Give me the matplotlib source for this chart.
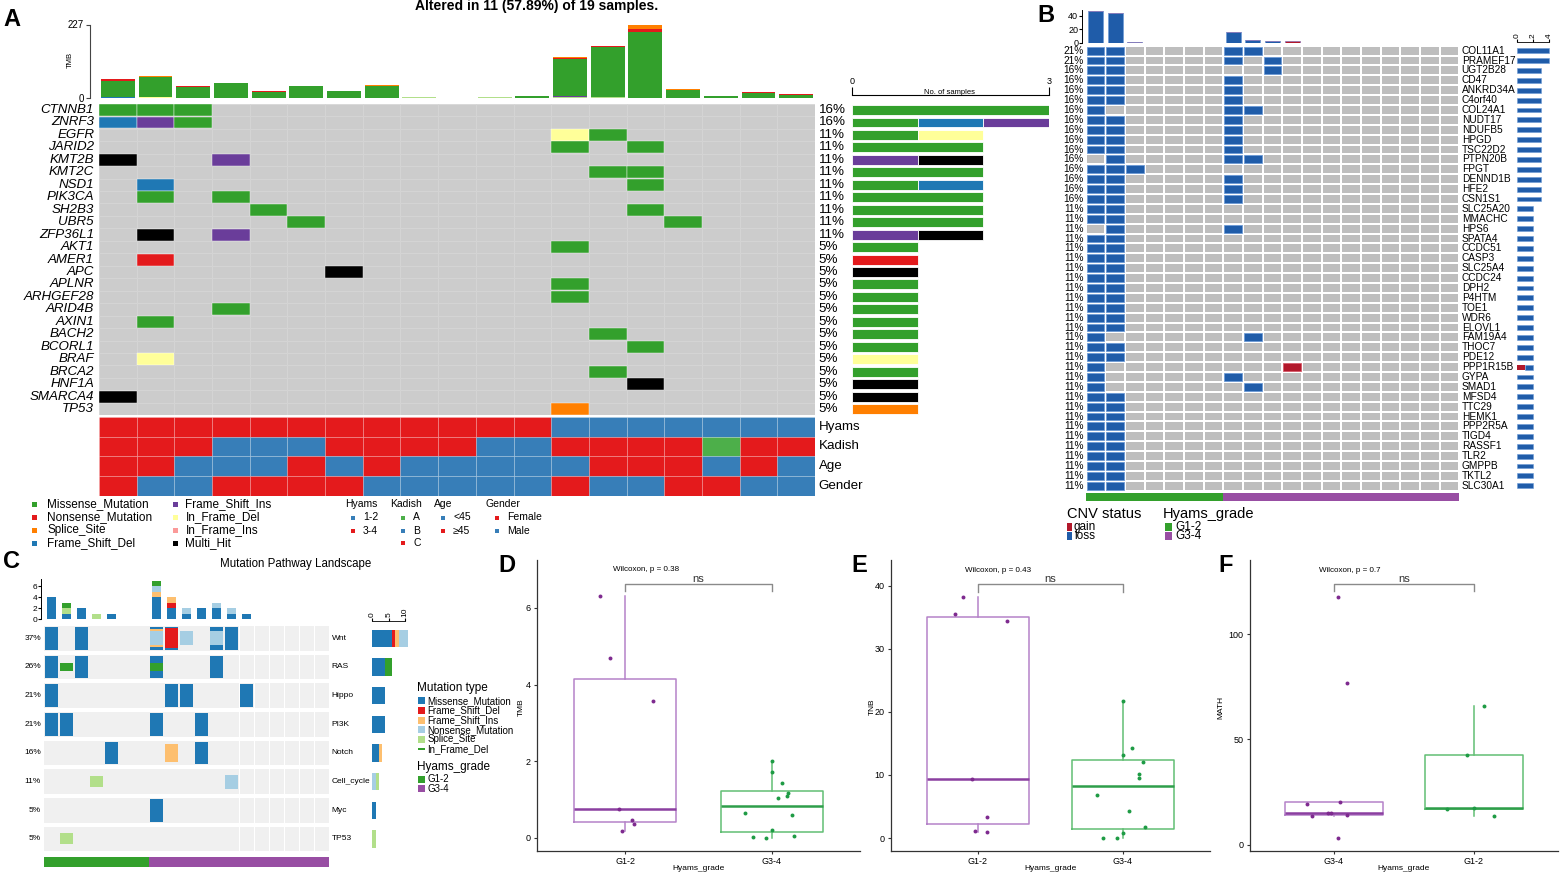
import numpy as np
import matplotlib
matplotlib.use('Agg')
import matplotlib.pyplot as plt
from matplotlib.patches import Rectangle

plt.rcParams['font.family'] = ['Liberation Sans', 'DejaVu Sans']

# ======================= DATA =======================
# ---- Panel A : oncoplot ----
n_samples_A = 19
genes_A = ['CTNNB1', 'ZNRF3', 'EGFR', 'JARID2', 'KMT2B', 'KMT2C', 'NSD1', 'PIK3CA',
           'SH2B3', 'UBR5', 'ZFP36L1', 'AKT1', 'AMER1', 'APC', 'APLNR', 'ARHGEF28',
           'ARID4B', 'AXIN1', 'BACH2', 'BCORL1', 'BRAF', 'BRCA2', 'HNF1A', 'SMARCA4', 'TP53']
# codes: M missense, N nonsense, S splice, D FS del, I FS ins, d IF del, i IF ins, X multi hit
onco_A = ['MMM................',
          'DIM................',
          '............dM.....',
          '............M.M....',
          'X..I...............',
          '.............MM....',
          '.D............M....',
          '.M.M...............',
          '....M.........M....',
          '.....M.........M...',
          '.X.I...............',
          '............M......',
          '.N.................',
          '......X............',
          '............M......',
          '............M......',
          '...M...............',
          '.M.................',
          '.............M.....',
          '..............M....',
          '.d.................',
          '.............M.....',
          '..............X....',
          'X..................',
          '............S......']
tmb_other    = [0, 0, 0, 0, 0, 0, 0, 0, 3, 0, 3, 1, 5, 3, 2, 0, 1, 0, 0]
tmb_fsins    = [1, 0, 0, 1, 0, 0, 0, 0, 0, 0, 0, 0, 1, 0, 0, 0, 0, 1, 0]
tmb_fsdel    = [2, 2, 0, 1, 0, 0, 0, 0, 0, 0, 0, 0, 0, 0, 0, 0, 0, 1, 1]
tmb_ifdel    = [0, 2, 0, 0, 0, 0, 0, 0, 0, 0, 0, 0, 0, 0, 0, 0, 0, 0, 0]
tmb_missense = [50, 60, 35, 44, 20, 37, 21, 38, 0, 0, 0, 6, 115, 156, 203, 24, 5, 14, 10]
tmb_nonsense = [5, 3, 3, 0, 1, 1, 1, 1, 0, 0, 0, 0, 4, 1, 9, 3, 0, 2, 1]
tmb_splice   = [2, 2, 1, 2, 1, 1, 0, 1, 0, 0, 0, 0, 2, 1, 13, 1, 0, 1, 0]
tmb_ifins    = [0, 0, 0, 0, 0, 0, 0, 0, 0, 0, 0, 0, 1, 1, 0, 0, 0, 1, 0]
hyams_A  = ['3-4'] * 12 + ['1-2'] * 7
kadish_A = ['C', 'C', 'C', 'B', 'B', 'B', 'C', 'C', 'C', 'C', 'B', 'B', 'C', 'C', 'C', 'C', 'A', 'C', 'C']
age_A    = ['>=45', '>=45', '<45', '<45', '<45', '>=45', '<45', '>=45', '<45', '<45', '<45', '<45', '<45',
            '>=45', '>=45', '>=45', '<45', '>=45', '<45']
gender_A = ['Female', 'Male', 'Male', 'Female', 'Female', 'Female', 'Female', 'Male', 'Male', 'Male',
            'Male', 'Male', 'Female', 'Male', 'Male', 'Female', 'Female', 'Male', 'Male']

# ---- Panel B : CNV oncoplot ----
genes_B = ['COL11A1', 'PRAMEF17', 'UGT2B28', 'CD47', 'ANKRD34A', 'C4orf40', 'COL24A1', 'NUDT17',
           'NDUFB5', 'HPGD', 'TSC22D2', 'PTPN20B', 'FPGT', 'DENND1B', 'HFE2', 'CSN1S1', 'SLC25A20',
           'MMACHC', 'HPS6', 'SPATA4', 'CCDC51', 'CASP3', 'SLC25A4', 'CCDC24', 'DPH2', 'P4HTM',
           'TOE1', 'WDR6', 'ELOVL1', 'FAM19A4', 'THOC7', 'PDE12', 'PPP1R15B', 'GYPA', 'SMAD1',
           'MFSD4', 'TTC29', 'HEMK1', 'PPP2R5A', 'TIGD4', 'RASSF1', 'TLR2', 'GMPPB', 'TKTL2', 'SLC30A1']
LL = 'LL.................'
cnv_B = ['LL.....LL..........', 'LL.....L.L.........', 'LL.......L.........', 'LL.....L...........',
         'LL.....L...........', 'LL.....L...........', 'L......LL..........', 'LL.....L...........',
         'LL.....L...........', 'LL.....L...........', 'LL.....L...........', '.L.....LL..........',
         'LLL................', 'LL.....L...........', 'LL.....L...........', 'LL.....L...........',
         LL, LL, '.L.....L...........', LL, LL, LL, LL, LL, LL, LL, LL, LL, LL,
         'L.......L..........', LL, LL, 'L.........G........', 'L......L...........',
         'L.......L..........', LL, LL, LL, LL, LL, LL, LL, LL, LL, LL]
cnv_top_loss = [47, 44, 1, 0, 0, 0, 0, 16, 4, 2, 0, 0, 0, 0, 0, 0, 0, 0, 0]
cnv_top_gain = [0, 0, 0, 0, 0, 0, 0, 0, 0, 0, 2, 0, 0, 0, 0, 0, 0, 0, 0]
grade_B = ['G1-2'] * 7 + ['G3-4'] * 12

# ---- Panel C : pathway landscape ----
pathways_C = ['Wnt', 'RAS', 'Hippo', 'PI3K', 'Notch', 'Cell_cycle', 'Myc', 'TP53']
# codes: M missense, D FS del, I FS ins, N nonsense, S splice, F in-frame del
path_mut_C = {
    'Wnt':        {0: 'M', 2: 'M', 7: 'MIN', 8: 'MD', 9: 'N', 11: 'MN', 12: 'M'},
    'RAS':        {0: 'M', 1: 'F', 2: 'M', 7: 'MF', 11: 'M'},
    'Hippo':      {0: 'M', 8: 'M', 9: 'M', 13: 'M'},
    'PI3K':       {0: 'M', 1: 'M', 7: 'M', 10: 'M'},
    'Notch':      {4: 'M', 8: 'I', 10: 'M'},
    'Cell_cycle': {3: 'S', 12: 'N'},
    'Myc':        {7: 'M'},
    'TP53':       {1: 'S'},
}
grade_C = ['G1-2'] * 7 + ['G3-4'] * 12

# ---- Panels D-F : boxplots ----
tmb_g12 = [6.3, 4.7, 3.57, 0.75, 0.47, 0.36, 0.18]
tmb_g12_jit = [-0.17, -0.10, 0.19, -0.04, 0.05, 0.06, -0.02]
tmb_g34 = [2.02, 1.73, 1.43, 1.16, 1.10, 1.04, 0.65, 0.61, 0.20, 0.05, 0.02, 0.0]
tmb_g34_jit = [0, 0, 0.07, 0.11, 0.10, 0.04, -0.18, 0.14, 0, 0.15, -0.13, -0.04]
tnb_g12 = [38.3, 35.6, 34.5, 9.4, 3.4, 1.1, 1.0]
tnb_g12_jit = [-0.10, -0.16, 0.20, -0.04, 0.06, -0.02, 0.06]
tnb_g34 = [21.7, 14.2, 13.2, 12.0, 10.1, 9.5, 6.9, 4.3, 1.7, 0.8, 0.05, 0.0]
tnb_g34_jit = [0, 0.06, 0, 0.14, 0.11, 0.11, -0.18, 0.04, 0.15, 0, -0.14, -0.04]
math_g34 = [117.4, 76.7, 20.1, 19.5, 14.9, 14.9, 14.1, 13.4, 3.0]
math_g34_jit = [0.03, 0.09, 0.04, -0.19, -0.04, -0.02, 0.09, -0.16, 0.03]
math_g12 = [65.8, 42.6, 17.6, 16.8, 13.8]
math_g12_jit = [0.07, -0.05, 0, -0.19, 0.14]
p_values = ['0.38', '0.43', '0.7']

# ======================= STYLE =======================
MUTA = {'M': ('Missense_Mutation', '#33A02C'), 'N': ('Nonsense_Mutation', '#E31A1C'),
        'S': ('Splice_Site', '#FF7F00'), 'D': ('Frame_Shift_Del', '#1F78B4'),
        'I': ('Frame_Shift_Ins', '#6A3D9A'), 'd': ('In_Frame_Del', '#FFFF99'),
        'i': ('In_Frame_Ins', '#FB9A99'), 'X': ('Multi_Hit', '#000000')}
MUTC = {'M': ('Missense_Mutation', '#1F78B4', 1.0), 'D': ('Frame_Shift_Del', '#E31A1C', 0.88),
        'I': ('Frame_Shift_Ins', '#FDBF6F', 0.78), 'N': ('Nonsense_Mutation', '#A6CEE3', 0.62),
        'S': ('Splice_Site', '#B2DF8A', 0.48), 'F': ('In_Frame_Del', '#33A02C', 0.32)}
RED, BLUE, GREEN = '#E41A1C', '#377EB8', '#4DAF4A'
GR_COL = {'G1-2': '#33A02C', 'G3-4': '#984EA3'}

W, H = 1560, 873
fig = plt.figure(figsize=(W / 100, H / 100), dpi=100)


def pax(x0, y0, x1, y1, z=1):
    a = fig.add_axes([x0 / W, 1 - y1 / H, (x1 - x0) / W, (y1 - y0) / H])
    a.set_zorder(z)
    a.patch.set_alpha(0)
    return a


ov = pax(0, 0, W, H, z=10)
ov.set_xlim(0, W)
ov.set_ylim(H, 0)
ov.axis('off')


def sq(x, y, c, w=5, h=5):
    ov.add_patch(Rectangle((x - w / 2, y - h / 2), w, h, fc=c, lw=0))


# panel letters
for lab, (lx, ly) in {'A': (12, 19), 'B': (1046, 16), 'C': (12, 561), 'D': (507, 566),
                      'E': (859, 566), 'F': (1226, 566)}.items():
    ov.text(lx, ly, lab, fontsize=17, fontweight='bold', ha='center', va='center')

# ======================= PANEL A =======================
nA = n_samples_A
xA = np.arange(nA)
ov.text(537, 6, 'Altered in 11 (57.89%) of 19 samples.', fontsize=10, fontweight='bold',
        ha='center', va='center')

axT = pax(99, 24.5, 815, 98.3)
bot = np.zeros(nA)
for vals, c in [(tmb_other, '#B2DF8A'), (tmb_fsins, MUTA['I'][1]), (tmb_fsdel, MUTA['D'][1]),
                (tmb_ifdel, MUTA['d'][1]), (tmb_missense, MUTA['M'][1]), (tmb_nonsense, MUTA['N'][1]),
                (tmb_splice, MUTA['S'][1]), (tmb_ifins, MUTA['i'][1])]:
    v = np.array(vals, float)
    axT.bar(xA, v, 0.9, bottom=bot, color=c, lw=0)
    bot += v
axT.set_xlim(-0.5, nA - 0.5)
axT.set_ylim(0, 227)
for s in ['top', 'right', 'bottom']:
    axT.spines[s].set_visible(False)
axT.spines['left'].set_position(('outward', 6.5))
axT.spines['left'].set_bounds(0, 227)
axT.spines['left'].set_color('#444444')
axT.set_yticks([0, 227])
axT.tick_params(axis='y', labelsize=7, length=3, pad=1.5, color='#444444')
axT.set_xticks([])
ov.text(70, 60, 'TMB', rotation=90, fontsize=5.5, ha='center', va='center')

nG = len(genes_A)
axO = pax(99, 103.8, 815, 415.3)
for i, g in enumerate(genes_A):
    for j, ch in enumerate(onco_A[i]):
        axO.add_patch(Rectangle((j - 0.5, i - 0.5), 1, 1, fc='#CCCCCC', ec='#D5D5D5', lw=0.5))
        if ch != '.':
            axO.add_patch(Rectangle((j - 0.5, i - 0.48), 1, 0.96, fc=MUTA[ch][1], ec='white', lw=0.3))
    cnt = sum(1 for ch in onco_A[i] if ch != '.')
    axO.text(-0.63, i, g, ha='right', va='center', fontsize=9.6, style='italic')
    axO.text(18.6, i, f'{round(100 * cnt / nA)}%', ha='left', va='center', fontsize=9.6)
axO.set_xlim(-0.5, nA - 0.5)
axO.set_ylim(nG - 0.5, -0.5)
axO.axis('off')

axR = pax(852, 103.8, 1049, 415.3)
for i, g in enumerate(genes_A):
    left = 0
    for ch in 'MNSDIdiX':
        n = onco_A[i].count(ch)
        if n:
            axR.barh(i, n, left=left, height=0.8, color=MUTA[ch][1], ec='white', lw=0.6)
            left += n
axR.set_xlim(0, 3)
axR.set_ylim(nG - 0.5, -0.5)
for s in ['bottom', 'left', 'right']:
    axR.spines[s].set_visible(False)
axR.spines['top'].set_position(('outward', 6))
axR.xaxis.tick_top()
axR.set_xticks([0, 3])
axR.tick_params(axis='x', length=6, labelsize=6.5, pad=1)
axR.set_yticks([])
ov.text(950, 93, 'No. of samples', fontsize=5.5, ha='center', va='center')

axAn = pax(99, 416.8, 815, 495.8)
tracks = [('Hyams', hyams_A, {'1-2': BLUE, '3-4': RED}),
          ('Kadish', kadish_A, {'A': GREEN, 'B': BLUE, 'C': RED}),
          ('Age', age_A, {'<45': BLUE, '>=45': RED}),
          ('Gender', gender_A, {'Female': RED, 'Male': BLUE})]
for r, (name, tr, cm) in enumerate(tracks):
    for j, v in enumerate(tr):
        axAn.add_patch(Rectangle((j - 0.5, r - 0.5), 1, 1, fc=cm[v], ec=(1, 1, 1, 0.25), lw=0.5))
    axAn.text(18.6, r, name, ha='left', va='center', fontsize=9.6)
axAn.set_xlim(-0.5, nA - 0.5)
axAn.set_ylim(3.5, -0.5)
axAn.axis('off')

# legend A
legA_y = [504, 517.5, 530.5, 543]
for codes, xs, xt in [('MNSD', 34.5, 47.5), ('IdiX', 175, 185.5)]:
    for k, ch in enumerate(codes):
        sq(xs, legA_y[k], MUTA[ch][1], 5, 5)
        ov.text(xt, legA_y[k], MUTA[ch][0], fontsize=8.5, ha='left', va='center')
for title, tx, sx, items in [('Hyams', 345, 353, [('1-2', BLUE), ('3-4', RED)]),
                             ('Kadish', 390, 403, [('A', GREEN), ('B', BLUE), ('C', RED)]),
                             ('Age', 434, 443, [('<45', BLUE), ('≥45', RED)]),
                             ('Gender', 486, 497, [('Female', RED), ('Male', BLUE)])]:
    ov.text(tx, legA_y[0], title, fontsize=7.5, ha='left', va='center')
    for k, (lab, c) in enumerate(items):
        sq(sx, legA_y[k + 1], c, 4, 4)
        ov.text(sx + 10, legA_y[k + 1], lab, fontsize=7.5, ha='left', va='center')

# ======================= PANEL B =======================
nB = len(genes_B)
axB = pax(1085.7, 45.7, 1459.3, 490.7)
for i, g in enumerate(genes_B):
    for j, ch in enumerate(cnv_B[i]):
        if ch == '.':
            axB.add_patch(Rectangle((j - 0.45, i - 0.4), 0.9, 0.8, fc='#BEBEBE', lw=0))
        else:
            c = '#1F5CA9' if ch == 'L' else '#B2182B'
            e = '#6D9BD6' if ch == 'L' else '#D65A6A'
            axB.add_patch(Rectangle((j - 0.45, i - 0.4), 0.9, 0.8, fc=c, ec=e, lw=0.6))
    cnt = sum(1 for ch in cnv_B[i] if ch != '.')
    axB.text(-0.62, i, f'{round(100 * cnt / 19)}%', ha='right', va='center', fontsize=7.3)
    axB.text(18.62, i, g, ha='left', va='center', fontsize=7.3)
axB.set_xlim(-0.5, 18.5)
axB.set_ylim(nB - 0.5, -0.5)
axB.axis('off')

axBT = pax(1085.7, 9.9, 1459.3, 42.7)
xB = np.arange(19)
axBT.bar(xB, cnv_top_loss, 0.75, color='#1F5CA9', ec='#6D9BD6', lw=0.5)
axBT.bar(xB, cnv_top_gain, 0.75, bottom=cnv_top_loss, color='#B2182B', ec='#8C6FB0', lw=0.5)
axBT.set_xlim(-0.5, 18.5)
axBT.set_ylim(0, 48.4)
for s in ['top', 'right', 'bottom']:
    axBT.spines[s].set_visible(False)
axBT.spines['left'].set_position(('outward', 2.4))
axBT.spines['left'].set_linewidth(0.7)
axBT.set_yticks([0, 20, 40])
axBT.set_xticks([])
axBT.tick_params(axis='y', labelsize=6.5, length=2, pad=1)

axBR = pax(1517.3, 45.7, 1557, 490.7)
for i in range(nB):
    ng = cnv_B[i].count('G')
    nl = cnv_B[i].count('L')
    if ng:
        axBR.barh(i, ng, height=0.5, color='#B2182B', lw=0)
    axBR.barh(i, nl, left=ng, height=0.5, color='#1F5CA9', ec='#6D9BD6', lw=0.4)
axBR.set_xlim(0, 5.03)
axBR.set_ylim(nB - 0.5, -0.5)
for s in ['bottom', 'left', 'right']:
    axBR.spines[s].set_visible(False)
axBR.spines['top'].set_position(('outward', 2.5))
axBR.spines['top'].set_linewidth(0.6)
axBR.spines['top'].set_bounds(0, 4)
axBR.xaxis.tick_top()
axBR.set_xticks([0, 2, 4])
axBR.tick_params(axis='x', length=2, labelsize=6, pad=1, labelrotation=90)
axBR.set_yticks([])

axBA = pax(1085.7, 493.3, 1459.3, 500.7)
for j, gname in enumerate(grade_B):
    axBA.add_patch(Rectangle((j - 0.5, 0), 1, 1, fc=GR_COL[gname], lw=0))
axBA.set_xlim(-0.5, 18.5)
axBA.set_ylim(0, 1)
axBA.axis('off')

ov.text(1067, 514, 'CNV status', fontsize=10.5, ha='left', va='center')
sq(1069.5, 527, '#B2182B', 4.3, 8)
sq(1069.5, 536, '#1F5CA9', 4.3, 8)
ov.text(1074, 527, 'gain', fontsize=8.5, ha='left', va='center')
ov.text(1074, 536, 'loss', fontsize=8.5, ha='left', va='center')
ov.text(1163, 514, 'Hyams_grade', fontsize=10.5, ha='left', va='center')
sq(1168.5, 527, GR_COL['G1-2'], 7, 8)
sq(1168.5, 536, GR_COL['G3-4'], 7, 8)
ov.text(1175, 527, 'G1-2', fontsize=8.5, ha='left', va='center')
ov.text(1175, 536, 'G3-4', fontsize=8.5, ha='left', va='center')

# ======================= PANEL C =======================
nP = len(pathways_C)
ov.text(296, 564, 'Mutation Pathway Landscape', fontsize=8.3, ha='center', va='center')
axC = pax(44, 624, 329.3, 853.3)
for i, p in enumerate(pathways_C):
    for j in range(19):
        axC.add_patch(Rectangle((j - 0.48, i - 0.435), 0.96, 0.87, fc='#F0F0F0', lw=0))
        muts = sorted(path_mut_C[p].get(j, ''), key=lambda c: -MUTC[c][2])
        for ch in muts:
            h = 0.8 * MUTC[ch][2]
            axC.add_patch(Rectangle((j - 0.42, i - h / 2), 0.84, h, fc=MUTC[ch][1], lw=0))
    axC.text(-0.7, i, f'{round(100 * len(path_mut_C[p]) / 19)}%', ha='right', va='center', fontsize=6)
    axC.text(18.66, i, p, ha='left', va='center', fontsize=6)
axC.set_xlim(-0.5, 18.5)
axC.set_ylim(nP - 0.5, -0.5)
axC.axis('off')

axCT = pax(44, 579, 329.3, 619.3)
xC = np.arange(19)
bot = np.zeros(19)
for ch in 'MDINSF':
    v = np.array([sum(path_mut_C[p].get(j, '').count(ch) for p in pathways_C) for j in range(19)], float)
    axCT.bar(xC, v, 0.62, bottom=bot, color=MUTC[ch][1], lw=0)
    bot += v
axCT.set_xlim(-0.5, 18.5)
axCT.set_ylim(0, 7.3)
for s in ['top', 'right', 'bottom']:
    axCT.spines[s].set_visible(False)
axCT.spines['left'].set_position(('outward', 2))
axCT.spines['left'].set_linewidth(0.7)
axCT.set_yticks([0, 2, 4, 6])
axCT.set_xticks([])
axCT.tick_params(axis='y', labelsize=6, length=2, pad=1)

axCR = pax(372.3, 624, 412, 853.3)
for i, p in enumerate(pathways_C):
    left = 0
    for ch in 'MDINSF':
        n = sum(s.count(ch) for s in path_mut_C[p].values())
        if n:
            axCR.barh(i, n, left=left, height=0.6, color=MUTC[ch][1], lw=0)
            left += n
axCR.set_xlim(0, 12.1)
axCR.set_ylim(nP - 0.5, -0.5)
for s in ['bottom', 'left', 'right']:
    axCR.spines[s].set_visible(False)
axCR.spines['top'].set_position(('outward', 2.3))
axCR.spines['top'].set_linewidth(0.6)
axCR.spines['top'].set_bounds(0, 10)
axCR.xaxis.tick_top()
axCR.set_xticks([0, 5, 10])
axCR.tick_params(axis='x', length=2, labelsize=6, pad=1, labelrotation=90)
axCR.set_yticks([])

axCA = pax(44, 856.7, 329.3, 866.7)
for j, gname in enumerate(grade_C):
    axCA.add_patch(Rectangle((j - 0.5, 0), 1, 1, fc=GR_COL[gname], lw=0))
axCA.set_xlim(-0.5, 18.5)
axCA.set_ylim(0, 1)
axCA.axis('off')

ov.text(417, 687.5, 'Mutation type', fontsize=8.5, ha='left', va='center')
legC_y = [700.7, 710.3, 720, 729.7, 739.3, 749]
for k, ch in enumerate('MDINSF'):
    if ch == 'F':
        sq(421.3, legC_y[k], MUTC[ch][1], 7, 2.5)
    else:
        sq(421.3, legC_y[k], MUTC[ch][1], 7, 7)
    ov.text(427.5, legC_y[k], MUTC[ch][0], fontsize=7, ha='left', va='center')
ov.text(417, 766.7, 'Hyams_grade', fontsize=8.5, ha='left', va='center')
for k, gname in enumerate(['G1-2', 'G3-4']):
    sq(421.3, 779 + k * 9.7, GR_COL[gname], 7, 7)
    ov.text(427.5, 779 + k * 9.7, gname, fontsize=7, ha='left', va='center')

# ======================= PANELS D-F =======================
PB, PM, PP = '#B583C9', '#8B3FA0', '#7E2A8F'
GB, GM, GP = '#62BE74', '#2E9E4A', '#1E9B45'


def boxpanel(x0, x1, ylim, g1, j1, g2, j2, xlabels, ylab, yticks, brk, wtxt, wx, wy, ylx):
    ax = pax(x0, 560, x1, 851, z=2)
    for pos, vals, jit, cb, cmed, cpt in [(1, g1, j1, PB, PM, PP), (2, g2, j2, GB, GM, GP)]:
        ax.boxplot([vals], positions=[pos], widths=0.7, showfliers=False, showcaps=False,
                   boxprops=dict(color=cb, lw=1.1), whiskerprops=dict(color=cb, lw=1.1),
                   medianprops=dict(color=cmed, lw=1.8))
        ax.scatter(pos + np.array(jit), vals, s=8, color=cpt, zorder=3, lw=0)
    top, tip = brk
    ax.plot([1, 1, 2, 2], [tip, top, top, tip], color='#8A8A8A', lw=1)
    ax.text(1.5, top, 'ns', fontsize=8, ha='center', va='bottom', color='#333333')
    ax.text(wx, wy, wtxt, fontsize=5.8, ha='center', va='center')
    ax.set_xlim(0.4, 2.6)
    ax.set_ylim(*ylim)
    ax.set_xticks([1, 2])
    ax.set_xticklabels(xlabels)
    ax.set_yticks(yticks)
    for s in ['top', 'right']:
        ax.spines[s].set_visible(False)
    for s in ['left', 'bottom']:
        ax.spines[s].set_linewidth(0.9)
        ax.spines[s].set_color('#333333')
    ax.tick_params(labelsize=6.5, length=2.5, pad=2, color='#333333')
    ov.text(ylx, 707, ylab, rotation=90, fontsize=6, ha='center', va='center')
    ov.text((x0 + x1) / 2, 868, 'Hyams_grade', fontsize=6, ha='center', va='center')
    return ax


boxpanel(537, 860, (-0.34, 7.25), tmb_g12, tmb_g12_jit, tmb_g34, tmb_g34_jit, ['G1-2', 'G3-4'],
         'TMB', [0, 2, 4, 6], (6.62, 6.43), f'Wilcoxon, p = {p_values[0]}', 1.14, 7.0, 521)
boxpanel(891, 1210, (-2.06, 44.1), tnb_g12, tnb_g12_jit, tnb_g34, tnb_g34_jit, ['G1-2', 'G3-4'],
         'TNB', [0, 10, 20, 30, 40], (40.3, 39.1), f'Wilcoxon, p = {p_values[1]}', 1.14, 42.5, 872)
boxpanel(1250, 1558, (-3.0, 135.2), math_g34, math_g34_jit, math_g12, math_g12_jit, ['G3-4', 'G1-2'],
         'MATH', [0, 50, 100], (123.8, 120.3), f'Wilcoxon, p = {p_values[2]}', 1.11, 130.4, 1221)

fig.savefig('out.png', dpi=100)
